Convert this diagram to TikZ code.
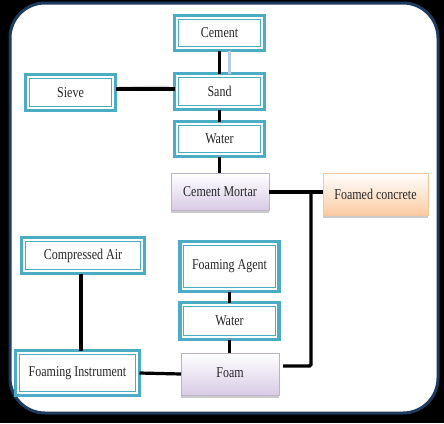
\documentclass[tikz,border=0pt]{standalone}
\usepackage{fontspec}
\setmainfont{Liberation Serif}[FakeStretch=0.80]
\usetikzlibrary{shadows}
\definecolor{tealc}{HTML}{4BACC6}
\definecolor{navy}{HTML}{1F3A5F}
\definecolor{txt}{HTML}{262626}
\definecolor{lav}{HTML}{D8CBE6}
\definecolor{lavb}{HTML}{BDB3C9}
\definecolor{peach}{HTML}{FBCBA2}
\definecolor{peachb}{HTML}{F3C8A4}
\definecolor{ghostblue}{HTML}{B8CCE8}
\definecolor{ghostgrey}{HTML}{D9D9D9}
\tikzset{
  tealbox/.style={draw=tealc, line width=3.4pt, fill=white, outer sep=0pt, inner sep=0pt,
    text=txt, font=\fontsize{15}{17}\selectfont,
    path picture={\draw[tealc, line width=1.2pt]
      ([shift={(3.8pt,-3.8pt)}]path picture bounding box.north west) rectangle
      ([shift={(-3.8pt,3.8pt)}]path picture bounding box.south east);}},
  gradbox/.style={draw=#1b, line width=0.6pt, top color=white, bottom color=#1,
    outer sep=0pt, inner sep=0pt, text=txt, font=\fontsize{15}{17}\selectfont,
    drop shadow={shadow xshift=0.3pt, shadow yshift=-2.5pt, fill=black!45, opacity=0.45}},
  conn/.style={draw=black, line width=3.2pt, rounded corners=1.5pt},
  frame/.style={draw=navy, line width=3pt, fill=white, rounded corners=35pt}
}
\begin{document}
\begin{tikzpicture}[x=1pt,y=-1pt]
\fill[black] (0,0) rectangle (444,423);
\useasboundingbox (0,0) rectangle (444,423);
\path[frame] (10,3) rectangle (438,413);

\node[tealbox, minimum width=90pt, minimum height=35pt] (cement) at (219.5,33) {Cement};
\node[tealbox, minimum width=90pt, minimum height=36pt] (sand) at (219.5,91.5) {Sand};
\node[tealbox, minimum width=90pt, minimum height=36pt] (sieve) at (70.5,92.5) {Sieve};
\node[tealbox, minimum width=90pt, minimum height=35pt] (water1) at (219.5,139) {Water};
\node[gradbox=lav, minimum width=98pt, minimum height=37pt] (cm) at (220,191.5) {Cement Mortar};
\node[gradbox=peach, minimum width=105pt, minimum height=42pt] (fc) at (375.5,194) {Foamed concrete};
\node[tealbox, minimum width=123pt, minimum height=36pt] (air) at (83,255.5) {Compressed Air};
\node[tealbox, minimum width=99pt, minimum height=50pt] (agent) at (229.5,266.5) {Foaming Agent};
\node[tealbox, minimum width=99pt, minimum height=37pt] (water2) at (229.5,321) {Water};
\node[gradbox=lav, minimum width=98pt, minimum height=42pt] (foam) at (230,374) {\raisebox{3pt}{Foam}};
\node[tealbox, minimum width=124pt, minimum height=45pt] (instr) at (77.5,373) {Foaming Instrument};

\coordinate (j) at (311,192);

\draw[ghostblue, line width=3pt] ([xshift=9.5pt]cement.south) -- ([xshift=9.5pt]sand.north);
\draw[ghostgrey, line width=2pt] ([shift={(4pt,5pt)}]sieve.east) -- ([shift={(-5pt,5pt)}]sand.west);

\draw[conn] (cement.south) -- (sand.north);
\draw[conn] (sieve.east |- 0,89) -- (sand.west |- 0,89);
\draw[conn] (sand.south) -- (water1.north);
\draw[conn] (water1.south) -- (water1.south |- cm.north);
\draw[conn] (cm.east |- j) -- (fc.west |- j);
\draw[conn] ([xshift=4pt,yshift=8pt]foam.east) -| (j);
\draw[conn] (air.south -| 81,0) -- (instr.north -| 81,0);
\draw[conn] (agent.south) -- (water2.north);
\draw[conn] (water2.south) -- (water2.south |- foam.north);
\draw[conn] (instr.east) -- (foam.west);
\end{tikzpicture}
\end{document}
